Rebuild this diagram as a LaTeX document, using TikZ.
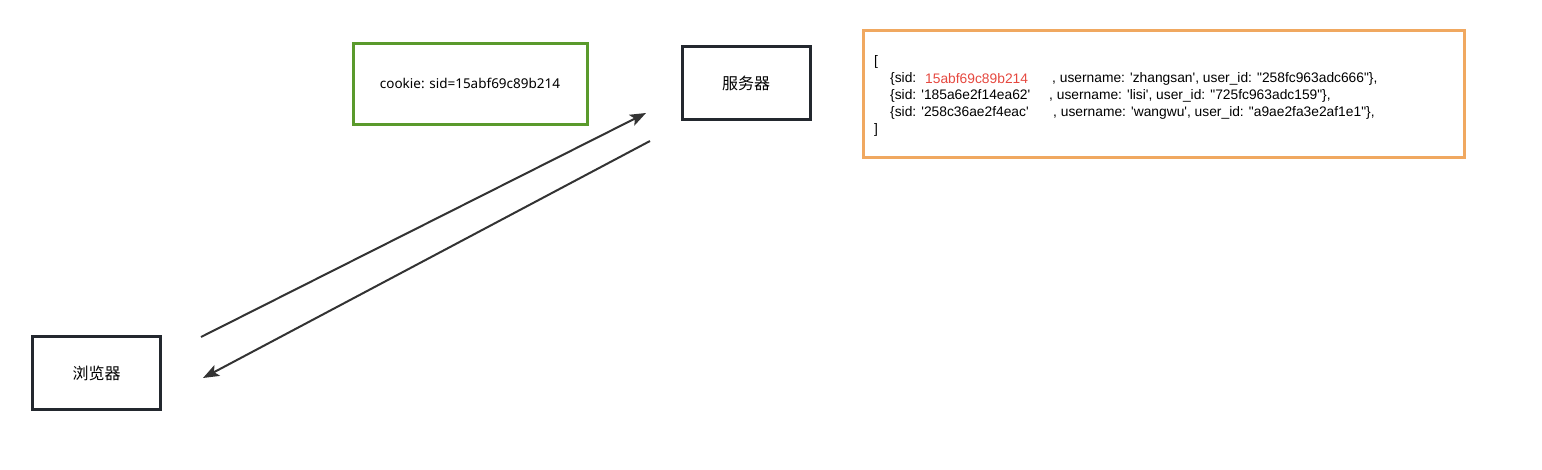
\documentclass[tikz,border=0pt]{standalone}
\usepackage{fontspec}
\setmainfont{Liberation Sans}[Ligatures=TeXOff]
\newfontfamily\cjkfont{Noto Sans CJK SC}
\newfontfamily\uifont{Noto Sans}
\usetikzlibrary{arrows.meta,positioning}
\definecolor{boxdark}{HTML}{23282E}
\definecolor{cookiegreen}{HTML}{5A9A2C}
\definecolor{storeorange}{HTML}{F0A860}
\definecolor{sidred}{HTML}{E5483F}
\definecolor{linkgray}{HTML}{333333}

\begin{document}
\begin{tikzpicture}[x=1pt,y=-1pt,
	hostbox/.style={
		draw=boxdark, line width=3pt, inner sep=0pt,
		minimum width=128pt, minimum height=73pt,
		font=\cjkfont\fontsize{16}{19}\selectfont
	},
	cookiebox/.style={
		draw=cookiegreen, line width=3pt, inner sep=0pt,
		minimum width=234pt, minimum height=81pt,
		font=\uifont\fontsize{13.5}{16}\selectfont
	},
	storebox/.style={
		draw=storeorange, line width=3pt, inner sep=0pt,
		minimum width=601pt, minimum height=127pt
	},
	codeline/.style={
		anchor=west, inner sep=0pt,
		font=\fontsize{13.8}{16}\selectfont
	},
	link/.style={
		draw=linkgray, line width=2pt,
		-{Stealth[length=16pt,width=12pt,inset=3.5pt]}
	}
]
	\useasboundingbox (0,0) rectangle (1542,469);

	\node[hostbox] (browser) at (96.5,373) {浏览器};
	\node[hostbox] (server) at (746,83) {服务器};
	\node[cookiebox] (cookie) at (470,83.5) {cookie: sid=15abf69c89b214};
	\node[storebox] (store) at (1163.5,93.5) {};

	% session table
	\node[codeline] (open) at (874,62) {[};
	\node[codeline] (sidA) at (890,79) {\{sid:};
	\node[codeline,text=sidred] (valA) at (925,79) {15abf69c89b214};
	\node[codeline] (restA) at (1052,79) {, username: 'zhangsan', user\_id: "258fc963adc666"\},};
	\node[codeline] (sidB) at (890,96) {\{sid: '185a6e2f14ea62'};
	\node[codeline] (restB) at (1049,96) {, username: 'lisi', user\_id: "725fc963adc159"\},};
	\node[codeline] (sidC) at (890,113) {\{sid: '258c36ae2f4eac'};
	\node[codeline] (restC) at (1053,113) {, username: 'wangwu', user\_id: "a9ae2fa3e2af1e1"\},};
	\node[codeline] (close) at (874,130) {]};

	% request / response
	\coordinate (reqstart) at (201,337);
	\coordinate (reqend) at (646,113);
	\coordinate (resstart) at (650,141);
	\coordinate (resend) at (203,378);
	\draw[link] (reqstart) -- (reqend);
	\draw[link] (resstart) -- (resend);
\end{tikzpicture}
\end{document}
